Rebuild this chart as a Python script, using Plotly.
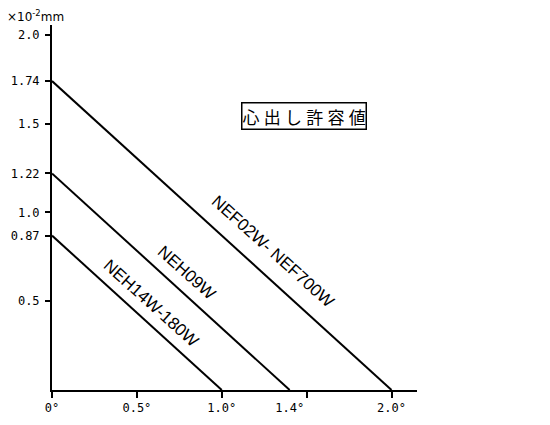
import plotly.graph_objects as go

# Allowable centering (misalignment) per model series
series_names = ["NEF02W- NEF700W", "NEH09W", "NEH14W-180W"]
offset_mm = [1.74, 1.22, 0.87]      # x10^-2 mm at 0 deg
angle_deg = [2.0, 1.4, 1.0]         # deg at 0 offset

y_tick_vals = [2.0, 1.74, 1.5, 1.22, 1.0, 0.87, 0.5]
y_tick_text = ["2.0", "1.74", "1.5", "1.22", "1.0", "0.87", "0.5"]
x_tick_marks = [0, 0.5, 1.0, 1.5, 2.0]
x_label_vals = [0, 0.5, 1.0, 1.4, 2.0]
x_label_text = ["0°", "0.5°", "1.0°", "1.4°", "2.0°"]

# label placement (data coords) for each line name
label_pos = [(1.30, 0.78), (0.79, 0.66), (0.585, 0.49)]

fig = go.Figure()

for name, off, ang in zip(series_names, offset_mm, angle_deg):
    fig.add_trace(go.Scatter(x=[0, ang], y=[off, 0], mode='lines',
                             line=dict(color='black', width=2), name=name,
                             showlegend=False, hoverinfo='skip'))

# dummy trace so the label axis is drawn
fig.add_trace(go.Scatter(x=[0], y=[0], xaxis='x2', mode='markers',
                         marker=dict(opacity=0), showlegend=False, hoverinfo='skip'))

for name, (px_, py_) in zip(series_names, label_pos):
    fig.add_annotation(x=px_, y=py_, text=name, showarrow=False, textangle=42,
                       font=dict(family='Liberation Sans', size=17, color='black'))

# boxed title, spaced out a little like the original
fig.add_annotation(x=1.482, y=1.545, text="\u2005".join("心出し許容値"), showarrow=False,
                   font=dict(family='Noto Sans CJK JP', size=17, color='black'),
                   bordercolor='black', borderwidth=1.5, borderpad=0, bgcolor='white')

fig.add_annotation(xref='paper', yref='paper', x=-0.13, y=1.025, xanchor='left',
                   yanchor='middle', text="×10<sup>-2</sup>mm", showarrow=False,
                   font=dict(family='DejaVu Sans', size=12, color='black'))

axis_font = dict(family='DejaVu Sans Mono', size=12, color='black')

# page body has an 8px margin, so margins are shifted to compensate
fig.update_layout(
    width=550, height=425,
    margin=dict(l=44, r=141, t=17, b=43),
    plot_bgcolor='white', paper_bgcolor='white',
    xaxis=dict(range=[0, 2.15], showgrid=False, zeroline=False, automargin=False,
               showline=True, linecolor='black', linewidth=2,
               tickvals=x_tick_marks, showticklabels=False,
               ticks='outside', ticklen=6, tickwidth=1.5, tickcolor='black'),
    xaxis2=dict(range=[0, 2.15], overlaying='x', side='bottom', showgrid=False,
                zeroline=False, showline=False, ticks='', automargin=False,
                tickvals=x_label_vals, ticktext=x_label_text, tickfont=axis_font,
                ticklabelstandoff=9),
    yaxis=dict(range=[0, 2.056], showgrid=False, zeroline=False, automargin=False,
               showline=True, linecolor='black', linewidth=2,
               tickvals=y_tick_vals, ticktext=y_tick_text, tickfont=axis_font,
               ticks='outside', ticklen=5, tickwidth=1.5, tickcolor='black',
               ticklabelstandoff=3),
)

fig.write_html("out.html")
